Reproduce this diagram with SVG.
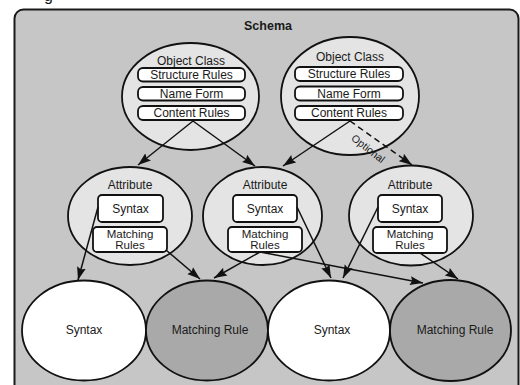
<svg xmlns="http://www.w3.org/2000/svg" width="520" height="385" viewBox="0 0 520 385">
  <style>
    text { font-family: "Liberation Sans", Arial, sans-serif; fill: #1a1a1a; text-anchor: middle; }
    .lbl { font-size: 12px; }
    .mrl { font-size: 11.5px; }
    .title { font-size: 12.5px; font-weight: bold; }
    .opt { font-size: 10.5px; }
    .panel { fill: #c6c6c6; stroke: #1a1a1a; stroke-width: 2; }
    .cls { fill: #e4e4e4; stroke: #111; stroke-width: 1.8; }
    .box { fill: #fff; stroke: #111; stroke-width: 1.8; }
    .syn { fill: #fff; stroke: #111; stroke-width: 1.8; }
    .mr { fill: #a9a9a9; stroke: #111; stroke-width: 1.8; }
    .conn line { stroke: #111; stroke-width: 1.5; marker-end: url(#arrow); }
    .dash { stroke-dasharray: 6 4; }
  </style>
  <defs>
    <marker id="arrow" markerUnits="userSpaceOnUse" markerWidth="14" markerHeight="10" refX="13" refY="5" orient="auto">
      <path d="M0,0.5 L13,5 L0,9.5 L2,5 z" fill="#111"/>
    </marker>
  </defs>

  <rect width="520" height="385" fill="#fff"/>
  <text x="44" y="1" style="font-size:16px;text-anchor:start">g</text>

  <!-- schema panel -->
  <rect class="panel" x="14.5" y="9.5" width="504" height="400" rx="9"/>
  <text class="title" x="268" y="30">Schema</text>

  <!-- object classes -->
  <g id="objectclass-left">
    <ellipse class="cls" cx="190.5" cy="96.5" rx="68.5" ry="53.5"/>
    <text class="lbl" x="191" y="65">Object Class</text>
    <rect class="box" x="138" y="68" width="107" height="13.5" rx="5"/>
    <text class="lbl" x="191.5" y="78.5">Structure Rules</text>
    <rect class="box" x="138" y="87" width="107" height="13.5" rx="5"/>
    <text class="lbl" x="191.5" y="97.5">Name Form</text>
    <rect class="box" x="138" y="106" width="107" height="14" rx="5"/>
    <text class="lbl" x="191.5" y="117">Content Rules</text>
  </g>
  <g id="objectclass-right">
    <ellipse class="cls" cx="350" cy="96" rx="69" ry="59"/>
    <text class="lbl" x="350" y="61">Object Class</text>
    <rect class="box" x="295" y="67" width="108" height="14" rx="5"/>
    <text class="lbl" x="349" y="78">Structure Rules</text>
    <rect class="box" x="295" y="86.5" width="108" height="14" rx="5"/>
    <text class="lbl" x="349" y="97.5">Name Form</text>
    <rect class="box" x="295" y="106" width="108" height="14" rx="5"/>
    <text class="lbl" x="349" y="117">Content Rules</text>
  </g>

  <!-- attributes -->
  <g id="attribute-left">
    <ellipse class="cls" cx="130" cy="216" rx="62" ry="49"/>
    <text class="lbl" x="130" y="189">Attribute</text>
    <rect class="box" x="98" y="195" width="65" height="27" rx="4"/>
    <text class="lbl" x="130.5" y="213">Syntax</text>
    <rect class="box" x="93" y="227" width="74" height="25" rx="4"/>
    <text class="mrl" x="130" y="237.5">Matching</text>
    <text class="mrl" x="130" y="249">Rules</text>
  </g>
  <g id="attribute-middle">
    <ellipse class="cls" cx="262.5" cy="216" rx="59.5" ry="49"/>
    <text class="lbl" x="265" y="189">Attribute</text>
    <rect class="box" x="233" y="195" width="64" height="27" rx="4"/>
    <text class="lbl" x="265" y="213">Syntax</text>
    <rect class="box" x="228" y="227" width="74" height="25" rx="4"/>
    <text class="mrl" x="265" y="237.5">Matching</text>
    <text class="mrl" x="265" y="249">Rules</text>
  </g>
  <g id="attribute-right">
    <ellipse class="cls" cx="411" cy="215.5" rx="62" ry="50"/>
    <text class="lbl" x="410" y="189">Attribute</text>
    <rect class="box" x="378" y="195" width="64" height="27" rx="4"/>
    <text class="lbl" x="410" y="213">Syntax</text>
    <rect class="box" x="373" y="227" width="74" height="26" rx="4"/>
    <text class="mrl" x="410" y="237.5">Matching</text>
    <text class="mrl" x="410" y="249">Rules</text>
  </g>

  <!-- bottom row -->
  <g id="syntax-1">
    <ellipse class="syn" cx="84" cy="330.5" rx="62" ry="50"/>
    <text class="lbl" x="84" y="334">Syntax</text>
  </g>
  <g id="matchingrule-1">
    <ellipse class="mr" cx="207" cy="330.5" rx="61" ry="50"/>
    <text class="lbl" x="210" y="334">Matching Rule</text>
  </g>
  <g id="syntax-2">
    <ellipse class="syn" cx="329" cy="330.5" rx="61" ry="50"/>
    <text class="lbl" x="332" y="334">Syntax</text>
  </g>
  <g id="matchingrule-2">
    <ellipse class="mr" cx="450.5" cy="330.5" rx="60.5" ry="50.5"/>
    <text class="lbl" x="455" y="334">Matching Rule</text>
  </g>

  <!-- connectors -->
  <g id="connectors" class="conn">
    <line x1="193" y1="121" x2="138" y2="165"/>
    <line x1="193" y1="121" x2="255" y2="166"/>
    <line x1="350" y1="121" x2="283" y2="166"/>
    <line class="dash" x1="350" y1="121" x2="412" y2="165"/>
    <line x1="98" y1="207" x2="78" y2="280"/>
    <line x1="166" y1="250" x2="200" y2="279"/>
    <line x1="260" y1="252" x2="214" y2="278"/>
    <line x1="297" y1="207" x2="331" y2="278"/>
    <line x1="378" y1="207" x2="343" y2="278"/>
    <line x1="260" y1="252" x2="423" y2="283"/>
    <line x1="420" y1="253" x2="458" y2="279"/>
  </g>
  <text class="opt" transform="translate(366 151.5) rotate(38)">Optional</text>
</svg>
